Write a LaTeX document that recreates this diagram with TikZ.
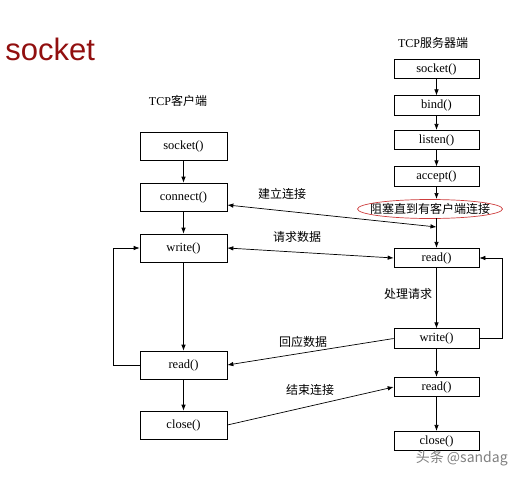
\documentclass[tikz,border=0pt]{standalone}
\usepackage{fontspec}
\setmainfont{Liberation Serif}
\newfontfamily\cjk{Noto Sans CJK SC}
\newfontfamily\titlefont{Liberation Sans}
\usetikzlibrary{arrows.meta}
\begin{document}
\begin{tikzpicture}[x=1pt, y=-1pt, line width=0.7pt, >={Latex[length=6pt,width=4.5pt]},
        cbox/.style={draw, shape=rectangle, minimum width=\clientwidth, minimum height=28pt, inner sep=0pt, font=\fontsize{12.5}{13}\selectfont},
        sbox/.style={draw, shape=rectangle, minimum width=\serverwidth, minimum height=19.5pt, inner sep=0pt, font=\fontsize{12.5}{13}\selectfont},
        lbl/.style={inner sep=0pt, font=\cjk\fontsize{12}{14}\selectfont}]
            \definecolor{titlered}{RGB}{145, 15, 15}
            \definecolor{ellred}{RGB}{205, 60, 60}
            \def\clientwidth{87pt}
            \def\serverwidth{85pt}
            \def\clientx{183.5}
            \def\serverx{436.5}
            \useasboundingbox (0,0) rectangle (521,476);
            \node[anchor=base west, inner sep=0pt, text=titlered, font=\titlefont\fontsize{31}{31}\selectfont] (title) at (5,61) {socket};
            \node[lbl] (chead) at (178,101) {{\rmfamily TCP}客户端};
            \node[lbl] (shead) at (433,43) {{\rmfamily TCP}服务器端};
            % client side
            \node[cbox] (csocket) at (\clientx,146.5) {socket()};
            \node[cbox] (cconnect) at (\clientx,197) {connect()};
            \node[cbox] (cwrite) at (\clientx,248) {write()};
            \node[cbox] (cread) at (\clientx,365) {read()};
            \node[cbox] (cclose) at (\clientx,425) {close()};
            % server side
            \node[sbox] (ssocket) at (\serverx,69) {socket()};
            \node[sbox] (sbind) at (\serverx,105.5) {bind()};
            \node[sbox] (slisten) at (\serverx,140) {listen()};
            \node[sbox] (saccept) at (\serverx,176.5) {accept()};
            \node[lbl] (block) at (430,209) {阻塞直到有客户端连接};
            \draw[ellred] (block) ellipse [x radius=72.5pt, y radius=9.5pt];
            \node[sbox] (sread) at (\serverx,258) {read()};
            \node[sbox] (swrite) at (\serverx,338.5) {write()};
            \node[sbox] (sread2) at (\serverx,387) {read()};
            \node[sbox] (sclose) at (\serverx,441) {close()};
            \coordinate (blocktop) at (\serverx,199);
            \coordinate (blockbot) at (\serverx,218);
            \coordinate (estab) at (\serverx,227);
            % labels
            \node[lbl] (lestab) at (282,194) {建立连接};
            \node[lbl] (lreq) at (297,237) {请求数据};
            \node[lbl] (lproc) at (408,294) {处理请求};
            \node[lbl] (lresp) at (303,342) {回应数据};
            \node[lbl] (lend) at (310,390) {结束连接};
            \node[anchor=base east, inner sep=0pt, text=gray, font=\cjk\fontsize{14}{14}\selectfont] (mark) at (508,462) {头条 @sandag};
            % arrows
            \draw[->] (csocket) -- (cconnect);
            \draw[->] (cconnect) -- (cwrite);
            \draw[->] (cwrite) -- (cread);
            \draw[->] (cread) -- (cclose);
            \draw[->] (cread.west) -- ++(-26,0) |- (cwrite.west);
            \draw[->] (ssocket) -- (sbind);
            \draw[->] (sbind) -- (slisten);
            \draw[->] (slisten) -- (saccept);
            \draw[->] (saccept) -- (blocktop);
            \draw[->] (blockbot) -- (sread);
            \draw[->] (sread) -- (swrite);
            \draw[->] (swrite) -- (sread2);
            \draw[->] (sread2) -- (sclose);
            \draw[->] (swrite.east) -- ++(23,0) |- (sread.east);
            \draw[<->] ([yshift=-8pt]cconnect.east) -- (estab);
            \draw[<->] (cwrite.east) -- (sread.west);
            \draw[->] (swrite.west) -- (cread.east);
            \draw[->] (cclose.east) -- (sread2.west);
        \end{tikzpicture}
\end{document}
